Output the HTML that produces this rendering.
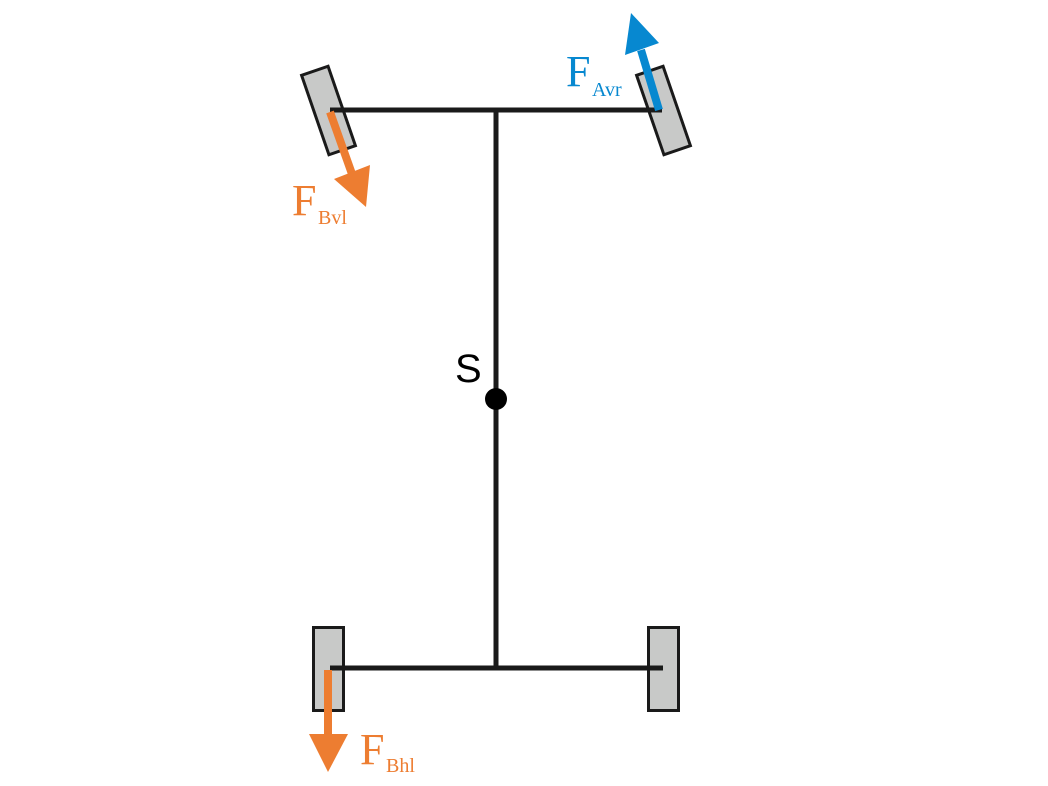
<!DOCTYPE html>
<html><head><style>body{margin:0;background:#fff}svg{display:block}</style></head>
<body>
<svg width="1048" height="786" viewBox="0 0 1048 786" xmlns="http://www.w3.org/2000/svg">
<g fill="#c8c9c8" stroke="#1a1a1a" stroke-width="3">
<rect x="-14" y="-42" width="28" height="84" transform="translate(328.5,110.5) rotate(-19)"/>
<rect x="-14" y="-42" width="28" height="84" transform="translate(663.5,110.5) rotate(-19)"/>
<rect x="313.5" y="627.5" width="30" height="83"/>
<rect x="648.5" y="627.5" width="30" height="83"/>
</g>
<g stroke="#1a1a1a" stroke-width="5" fill="none">
<line x1="330" y1="110" x2="662" y2="110"/>
<line x1="496" y1="110" x2="496" y2="668"/>
<line x1="330" y1="668" x2="663" y2="668"/>
</g>
<circle cx="496" cy="399" r="11" fill="#000"/>
<text x="455" y="382" font-family="Liberation Sans, sans-serif" font-size="40" fill="#000">S</text>
<!-- orange FBvl -->
<line x1="330" y1="112" x2="352" y2="174" stroke="#ED7D31" stroke-width="8"/>
<polygon points="334,179 370,165 366,207" fill="#ED7D31"/>
<!-- blue FAvr -->
<line x1="659" y1="110" x2="641" y2="50" stroke="#0788D0" stroke-width="8"/>
<polygon points="625,55 659,43 631,13" fill="#0788D0"/>
<!-- orange FBhl -->
<line x1="328" y1="670" x2="328" y2="738" stroke="#ED7D31" stroke-width="8"/>
<polygon points="309,734 348,734 328,772" fill="#ED7D31"/>
<g font-family="Liberation Serif, serif">
<text x="292" y="215" font-size="44" fill="#ED7D31">F</text>
<text x="318" y="224" font-size="20" fill="#ED7D31">Bvl</text>
<text x="566" y="86" font-size="44" fill="#0788D0">F</text>
<text x="592" y="96" font-size="20" fill="#0788D0">Avr</text>
<text x="360" y="764" font-size="44" fill="#ED7D31">F</text>
<text x="386" y="772" font-size="20" fill="#ED7D31">Bhl</text>
</g>
</svg>
</body></html>
